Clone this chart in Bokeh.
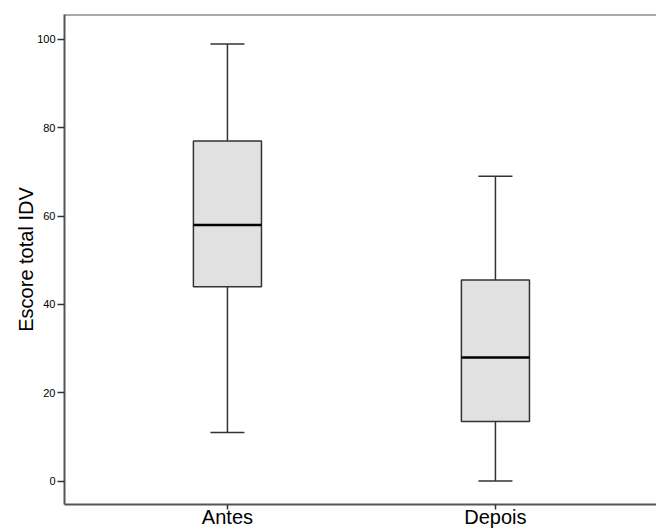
from bokeh.plotting import figure
from bokeh.models import FixedTicker, Span
from bokeh.embed import file_html
from bokeh.resources import INLINE

categories = ["Antes", "Depois"]
minimum = [11, 0]
q1 = [44, 13.5]
median = [58, 28]
q3 = [77, 45.5]
maximum = [99, 69]
y_ticks = [0, 20, 40, 60, 80, 100]

xs = [i + 1 for i in range(len(categories))]
box_w = 0.254
cap_w = 0.127

p = figure(width=656, height=530, output_backend="svg", toolbar_location=None,
           x_range=(0.392, 2.601), y_range=(-5.32, 105.66),
           min_border_left=64, min_border_right=0, min_border_top=14, min_border_bottom=20)
p.background_fill_color = "white"
p.border_fill_color = "white"
p.outline_line_color = None
p.xgrid.visible = False
p.ygrid.visible = False

line_col = "#333333"
# whiskers
p.segment(x0=xs, y0=q3, x1=xs, y1=maximum, line_color=line_col, line_width=1.5)
p.segment(x0=xs, y0=q1, x1=xs, y1=minimum, line_color=line_col, line_width=1.5)
# caps
p.segment(x0=[x - cap_w / 2 for x in xs], y0=maximum, x1=[x + cap_w / 2 for x in xs], y1=maximum,
          line_color=line_col, line_width=1.5)
p.segment(x0=[x - cap_w / 2 for x in xs], y0=minimum, x1=[x + cap_w / 2 for x in xs], y1=minimum,
          line_color=line_col, line_width=1.5)
# boxes
p.vbar(x=xs, width=box_w, top=q3, bottom=q1, fill_color="#e1e1e1", line_color=line_col, line_width=1.5)
# medians
p.segment(x0=[x - box_w / 2 for x in xs], y0=median, x1=[x + box_w / 2 for x in xs], y1=median,
          line_color="black", line_width=2.5)

top_line = Span(location=105.66, dimension="width", line_color="#555555", line_width=2)
p.add_layout(top_line)

# axes
p.yaxis.ticker = FixedTicker(ticks=y_ticks)
p.yaxis.axis_label = "Escore total IDV"
p.yaxis.axis_label_text_font = "Liberation Sans"
p.yaxis.axis_label_text_font_size = "20px"
p.yaxis.axis_label_text_font_style = "normal"
p.yaxis.axis_label_text_color = "black"
p.yaxis.axis_label_standoff = -3
p.yaxis.major_label_text_font = "Liberation Sans"
p.yaxis.major_label_text_font_size = "11px"
p.yaxis.major_label_text_color = "black"
p.yaxis.major_label_standoff = 2
p.yaxis.major_tick_out = 7
p.yaxis.major_tick_in = 0
p.yaxis.minor_tick_out = 0
p.yaxis.minor_tick_in = 0
p.yaxis.axis_line_color = "#555555"
p.yaxis.axis_line_width = 2
p.yaxis.major_tick_line_color = "#333333"
p.yaxis.major_tick_line_width = 1.5

p.xaxis.ticker = FixedTicker(ticks=xs)
p.xaxis.major_label_overrides = {x: c for x, c in zip(xs, categories)}
p.xaxis.major_label_text_font = "Liberation Sans"
p.xaxis.major_label_text_font_size = "20px"
p.xaxis.major_label_text_color = "black"
p.xaxis.major_label_standoff = -4
p.xaxis.major_tick_out = 5
p.xaxis.major_tick_in = 0
p.xaxis.minor_tick_out = 0
p.xaxis.minor_tick_in = 0
p.xaxis.axis_line_color = "#555555"
p.xaxis.axis_line_width = 2
p.xaxis.major_tick_line_color = "#333333"
p.xaxis.major_tick_line_width = 1.5

open("out.html", "w").write(file_html(p, INLINE))
